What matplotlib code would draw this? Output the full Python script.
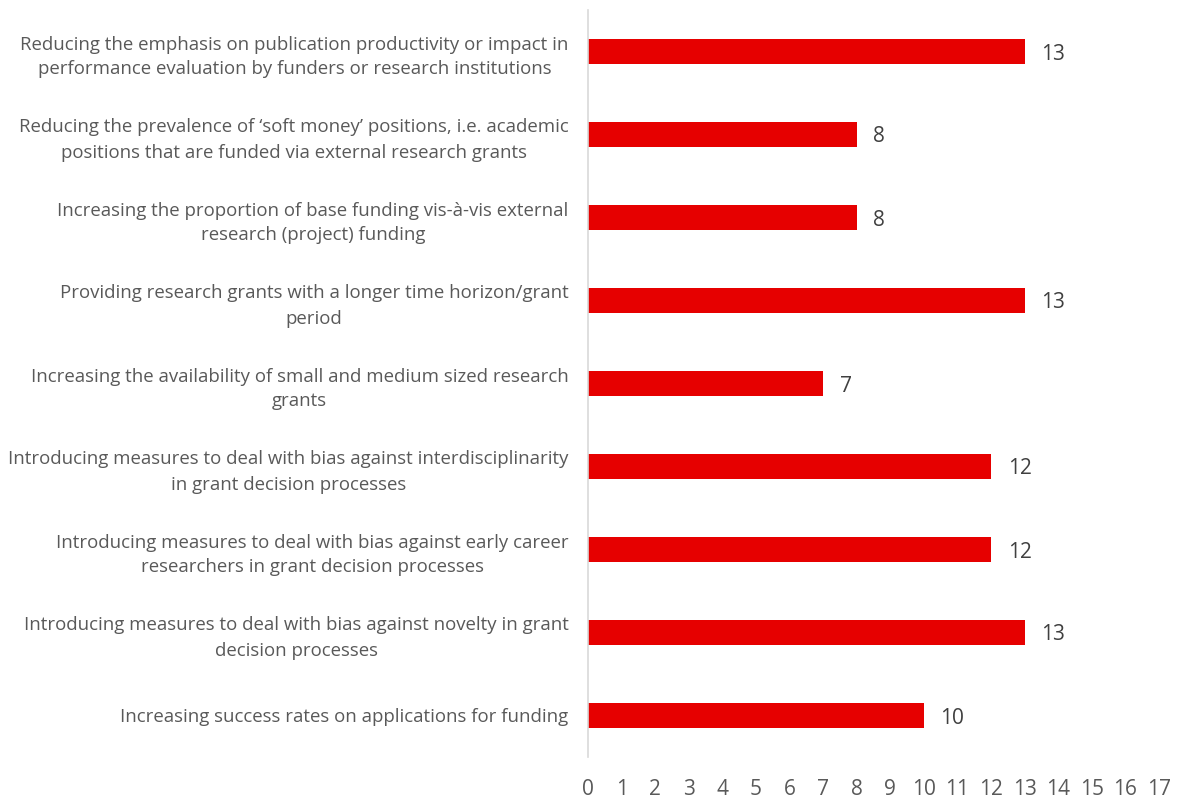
import matplotlib
matplotlib.use("Agg")
import matplotlib.pyplot as plt

categories = [
    "Reducing the emphasis on publication productivity or impact in\nperformance evaluation by funders or research institutions",
    "Reducing the prevalence of \u2018soft money\u2019 positions, i.e. academic\npositions that are funded via external research grants",
    "Increasing the proportion of base funding vis-\u00e0-vis external\nresearch (project) funding",
    "Providing research grants with a longer time horizon/grant\nperiod",
    "Increasing the availability of small and medium sized research\ngrants",
    "Introducing measures to deal with bias against interdisciplinarity\nin grant decision processes",
    "Introducing measures to deal with bias against early career\nresearchers in grant decision processes",
    "Introducing measures to deal with bias against novelty in grant\ndecision processes",
    "Increasing success rates on applications for funding",
]
values = [13, 8, 8, 13, 7, 12, 12, 13, 10]
x_ticks = list(range(0, 18))

plt.rcParams["font.family"] = ["Open Sans", "DejaVu Sans"]

fig = plt.figure(figsize=(11.78, 8.01), dpi=100)
ax = fig.add_axes([588 / 1178, 1 - 757 / 801, (1159 - 588) / 1178, (757 - 10) / 801])

pos = list(range(len(categories)))
ax.barh(pos, values, height=0.31, color="#E60000", zorder=2)

for p, v in zip(pos, values):
    ax.annotate(str(v), (v, p), xytext=(12, 0), textcoords="offset points",
                ha="left", va="center_baseline", fontsize=15, color="#404040")

ax.set_xlim(0, 17)
ax.set_ylim(len(categories) - 0.5, -0.5)
ax.set_xticks(x_ticks)
ax.set_xticklabels([str(t) for t in x_ticks], fontsize=15, color="#595959")
ax.set_yticks(pos)
ax.set_yticklabels(categories, fontsize=13.4, color="#595959", linespacing=1.5)
ax.tick_params(axis="both", length=0)
ax.tick_params(axis="x", pad=16)
ax.tick_params(axis="y", pad=14)

for s in ["top", "right", "bottom"]:
    ax.spines[s].set_visible(False)
ax.spines["left"].set_color("#D9D9D9")
ax.spines["left"].set_linewidth(1.2)

for lbl in ax.get_yticklabels():
    lbl.set_multialignment("center")

fig.savefig("out.png", dpi=100, facecolor="white")
